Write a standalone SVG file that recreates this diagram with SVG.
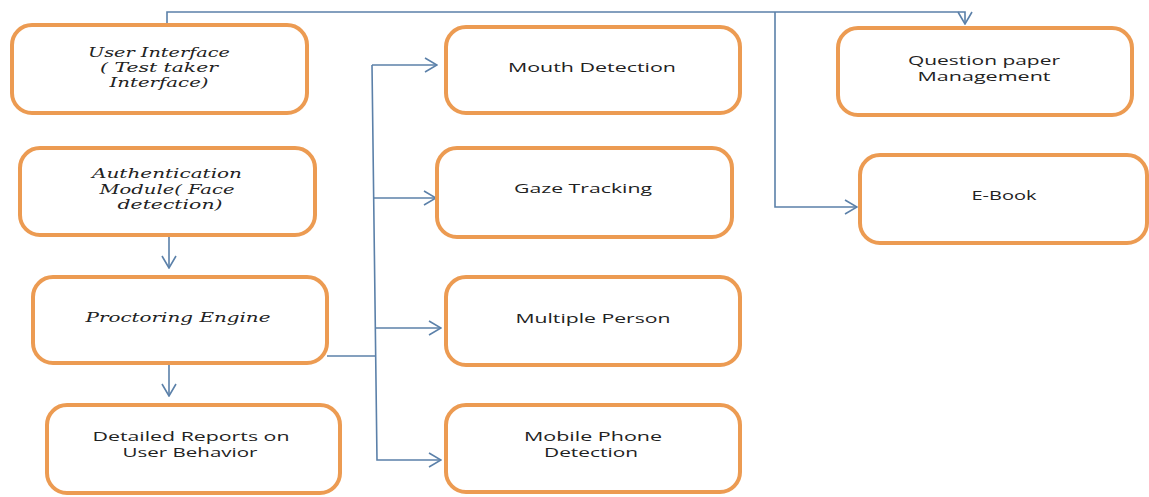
<svg xmlns="http://www.w3.org/2000/svg" width="1149" height="497" viewBox="0 0 1149 497">
<style>
.box{fill:#fff;stroke:#EC9B52;stroke-width:4}
.c{fill:none;stroke:#5B80A9;stroke-width:1.6}
.s{font-family:"Open Sans","DejaVu Sans",sans-serif;font-size:13px;fill:#222;text-anchor:middle}
.i{font-family:"DejaVu Serif","Liberation Serif",serif;font-style:italic;font-size:13px;fill:#222;text-anchor:middle}
</style>
<defs>
<marker id="a" viewBox="0 0 14 16" refX="13" refY="8" markerWidth="14" markerHeight="16" markerUnits="userSpaceOnUse" orient="auto">
<path d="M1,1 L13,8 L1,15" fill="none" stroke="#5B80A9" stroke-width="1.6"/>
</marker>
</defs>
<rect width="1149" height="497" fill="#fff"/>
<g id="connectors">
<path class="c" d="M167,25 V12 H965 V24" marker-end="url(#a)"/>
<path class="c" d="M775,12 V207 H857" marker-end="url(#a)"/>
<path class="c" d="M169,235 V268" marker-end="url(#a)"/>
<path class="c" d="M169,363 V396" marker-end="url(#a)"/>
<path class="c" d="M327,356 H376"/>
<path class="c" d="M372,65 L377,460 H441" marker-end="url(#a)"/>
<path class="c" d="M372,65 H437" marker-end="url(#a)"/>
<path class="c" d="M373,198 H436" marker-end="url(#a)"/>
<path class="c" d="M376,328 H441" marker-end="url(#a)"/>
</g>
<g id="user-interface">
<rect class="box" x="12" y="25" width="295" height="88" rx="20"/>
<text class="i" x="159" y="57" textLength="142" lengthAdjust="spacingAndGlyphs">User Interface</text>
<text class="i" x="159" y="72" textLength="118" lengthAdjust="spacingAndGlyphs">( Test taker</text>
<text class="i" x="159" y="87" textLength="99" lengthAdjust="spacingAndGlyphs">Interface)</text>
</g>
<g id="authentication">
<rect class="box" x="20" y="148" width="295" height="87" rx="20"/>
<text class="i" x="167" y="178" textLength="150" lengthAdjust="spacingAndGlyphs">Authentication</text>
<text class="i" x="167" y="194" textLength="135" lengthAdjust="spacingAndGlyphs">Module( Face</text>
<text class="i" x="170" y="209" textLength="105" lengthAdjust="spacingAndGlyphs">detection)</text>
</g>
<g id="proctoring-engine">
<rect class="box" x="33" y="277" width="294" height="86" rx="20"/>
<text class="i" x="178" y="322" textLength="185" lengthAdjust="spacingAndGlyphs">Proctoring Engine</text>
</g>
<g id="detailed-reports">
<rect class="box" x="47" y="405" width="293" height="88" rx="20"/>
<text class="s" x="191" y="441" textLength="197" lengthAdjust="spacingAndGlyphs">Detailed Reports on</text>
<text class="s" x="190" y="457" textLength="135" lengthAdjust="spacingAndGlyphs">User Behavior</text>
</g>
<g id="mouth-detection">
<rect class="box" x="446" y="27" width="294" height="86" rx="20"/>
<text class="s" x="592" y="72" textLength="168" lengthAdjust="spacingAndGlyphs">Mouth Detection</text>
</g>
<g id="gaze-tracking">
<rect class="box" x="437" y="148" width="295" height="89" rx="20"/>
<text class="s" x="583" y="193" textLength="138" lengthAdjust="spacingAndGlyphs">Gaze Tracking</text>
</g>
<g id="multiple-person">
<rect class="box" x="446" y="277" width="294" height="88" rx="20"/>
<text class="s" x="593" y="323" textLength="155" lengthAdjust="spacingAndGlyphs">Multiple Person</text>
</g>
<g id="mobile-phone">
<rect class="box" x="446" y="405" width="294" height="87" rx="20"/>
<text class="s" x="593" y="441" textLength="138" lengthAdjust="spacingAndGlyphs">Mobile Phone</text>
<text class="s" x="591" y="457" textLength="94" lengthAdjust="spacingAndGlyphs">Detection</text>
</g>
<g id="question-paper">
<rect class="box" x="838" y="28" width="294" height="87" rx="20"/>
<text class="s" x="984" y="65" textLength="152" lengthAdjust="spacingAndGlyphs">Question paper</text>
<text class="s" x="984" y="81" textLength="133" lengthAdjust="spacingAndGlyphs">Management</text>
</g>
<g id="e-book">
<rect class="box" x="860" y="155" width="287" height="88" rx="20"/>
<text class="s" x="1004" y="200" textLength="65" lengthAdjust="spacingAndGlyphs">E-Book</text>
</g>
</svg>
